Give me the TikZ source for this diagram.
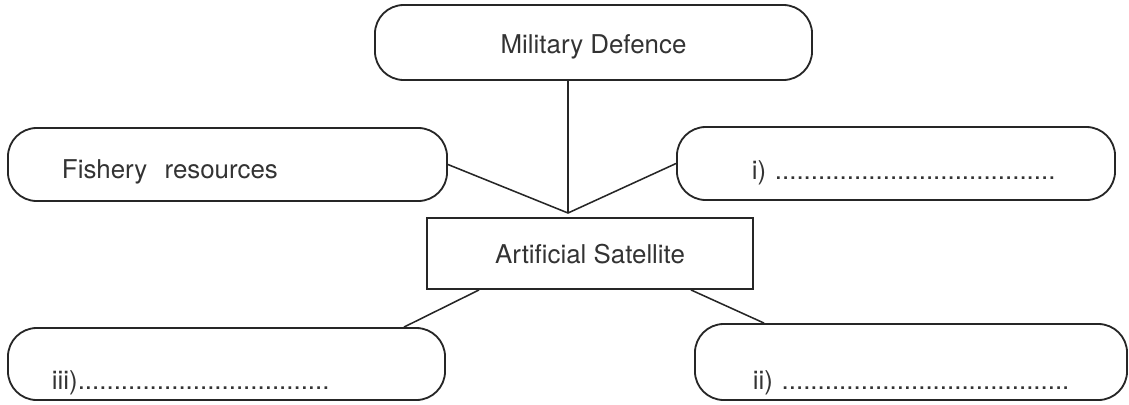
\documentclass[tikz,border=0pt]{standalone}
\usepackage{fontspec}
\setmainfont{TeX Gyre Heros}
\usetikzlibrary{calc,positioning}

\tikzset{
  roundbox/.style={draw=black!85, rounded corners=0.72cm, line width=1.3pt,
                   inner xsep=0pt, inner ysep=0pt, align=left, text depth=0pt},
  squarebox/.style={draw=black!85, line width=1.3pt, inner sep=0pt, text depth=0pt},
  lead/.style={execute at begin node={\hspace*{#1}}},
  link/.style={draw=black!85, line width=1.1pt},
}

\begin{document}
\begin{tikzpicture}[x=0.025cm, y=-0.025cm,
                    font=\fontsize{18.4}{22}\selectfont, text=black!80]
    \useasboundingbox (0,0) rectangle (1129,404);
    % Centre and top ---------------------------------------------------
    \node[squarebox, minimum width=8.15cm, minimum height=1.775cm,
          text height=0.475cm] (sat) at (590,253.5) {Artificial Satellite};
    \node[roundbox, minimum width=10.925cm, minimum height=1.875cm,
          text height=0.525cm] (mil) at (593.5,42.5) {Military Defence};
    % Side boxes -------------------------------------------------------
    \node[roundbox, text width=10.975cm, minimum height=1.825cm,
          text height=0.675cm, lead=1.35cm] (fish) at (227.5,164.5)
        {Fishery\ \ resources};
    \node[roundbox, text width=10.95cm, minimum height=1.825cm,
          text height=0.775cm, lead=1.875cm] (item1) at (896,163.5)
        {i)\ .......................................};
    \node[roundbox, text width=10.925cm, minimum height=1.8cm,
          text height=1.25cm, lead=1.1cm] (item3) at (226.5,364)
        {iii)...................................};
    \node[roundbox, text width=10.8cm, minimum height=1.9cm,
          text height=1.35cm, lead=1.45cm] (item2) at (911,362)
        {ii)\ ........................................};
    % Links ------------------------------------------------------------
    \coordinate (hub) at (568,213);
    \draw[link] (hub |- mil.south) -- (hub);
    \draw[link] (fish.east) -- (hub) -- (item1.west);
    \draw[link] ($(sat.south west)+(53,0)$) -- ($(item3.north east)+(-42,0)$);
    \draw[link] ($(sat.south east)+(-63,0)$) -- ($(item2.north west)+(70,0)$);
\end{tikzpicture}
\end{document}
